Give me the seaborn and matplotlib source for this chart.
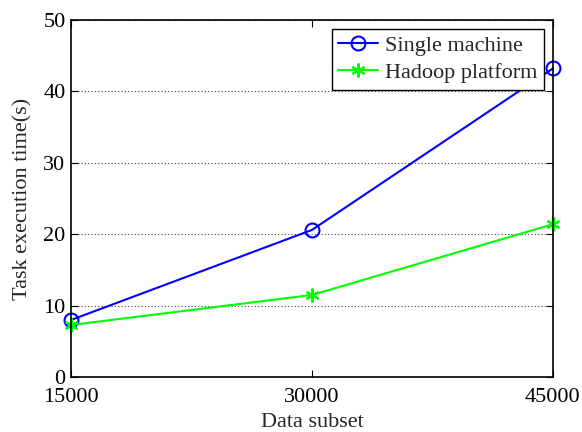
import matplotlib
matplotlib.use("Agg")
import matplotlib.pyplot as plt
import seaborn as sns
import pandas as pd

data_subset = [15000, 30000, 45000]
single_machine = [8.0, 20.6, 43.2]
hadoop_platform = [7.3, 11.5, 21.4]
x_ticks = [15000, 30000, 45000]
y_ticks = [0, 10, 20, 30, 40, 50]

sns.set_style("ticks")
plt.rcParams['font.family'] = ['Liberation Serif', 'DejaVu Serif']
plt.rcParams['mathtext.fontset'] = 'stix'

df1 = pd.DataFrame({"x": data_subset, "y": single_machine})
df2 = pd.DataFrame({"x": data_subset, "y": hadoop_platform})

fig = plt.figure(figsize=(5.82, 4.32), dpi=100)
ax = fig.add_axes([0.122, 0.127, 0.828, 0.827])

sns.lineplot(data=df1, x="x", y="y", ax=ax, color="#0000ff", marker="o",
             markersize=10, markerfacecolor="none", markeredgecolor="#0000ff",
             markeredgewidth=1.5, linewidth=1.5, label="Single machine", clip_on=False)
sns.lineplot(data=df2, x="x", y="y", ax=ax, color="#00ff00", marker=(6, 2, 0),
             markersize=10, markeredgecolor="#00ff00", markeredgewidth=1.5,
             linewidth=1.5, label="Hadoop platform", clip_on=False)

ax.set_xlim(15000, 45000)
ax.set_ylim(0, 50)
ax.set_xticks(x_ticks)
ax.set_xticklabels([str(v) for v in x_ticks])
ax.set_yticks(y_ticks)
ax.set_yticklabels([str(v) for v in y_ticks])
ax.tick_params(direction="in", labelsize=16, length=5, width=0.8, colors="black",
               top=True, right=True)
ax.tick_params(axis="x", pad=8)
ax.tick_params(axis="y", pad=4)
ax.yaxis.grid(True, linestyle=(0, (1, 2)), color="#444444", linewidth=0.8)
ax.xaxis.grid(False)
for s in ax.spines.values():
    s.set_visible(True)
    s.set_color("black")
    s.set_linewidth(1.2)

ax.set_xlabel("Data subset", fontsize=16, labelpad=4)
ax.set_ylabel("Task execution time(s)", fontsize=16, labelpad=8)

leg = ax.legend(loc="upper right", fontsize=16, frameon=True, fancybox=False,
                edgecolor="black", framealpha=1, borderpad=0.3, labelspacing=0.3,
                handlelength=1.8, handletextpad=0.3, borderaxespad=0.4)
leg.get_frame().set_linewidth(1.0)

fig.savefig("out.png", dpi=100)
